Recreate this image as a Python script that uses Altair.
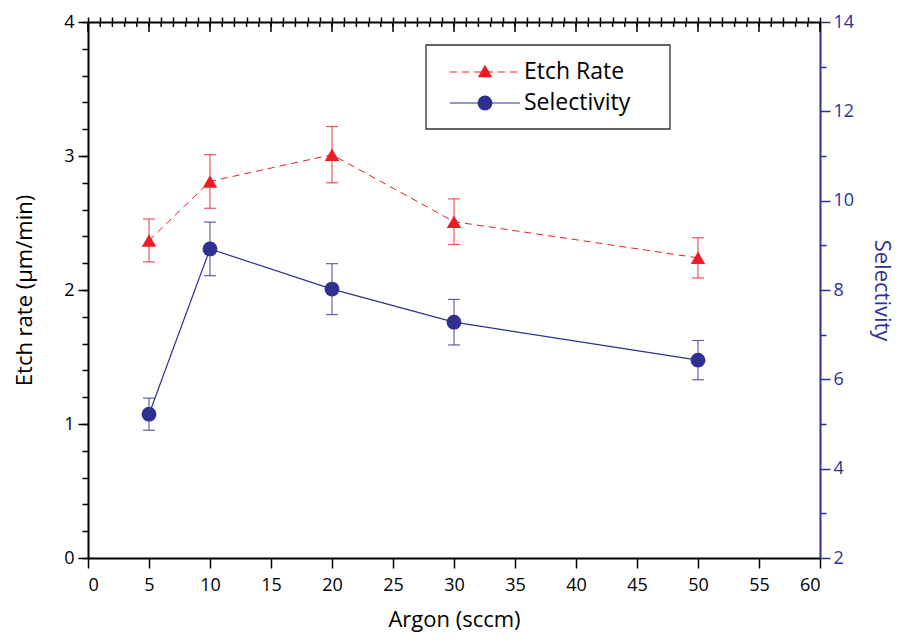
import altair as alt
import pandas as pd

# ---- data ----
argon = [5, 10, 20, 30, 50]
etch_rate = [2.37, 2.81, 3.01, 2.51, 2.24]
etch_err = [0.16, 0.20, 0.21, 0.17, 0.15]
selectivity = [5.22, 8.92, 8.02, 7.28, 6.43]
sel_err = [0.36, 0.60, 0.57, 0.51, 0.44]

x_major = list(range(0, 61, 5))
x_minor = list(range(0, 61, 1))
etch_major = [0, 1, 2, 3, 4]
etch_minor = [round(i * 0.2, 1) for i in range(0, 21)]
sel_major = [2, 4, 6, 8, 10, 12, 14]
sel_minor = [3, 5, 7, 9, 11, 13]

RED = "#ED1C24"
BLUE = "#2E3192"
FONT = "Open Sans"
W, H = 732, 536

df = pd.DataFrame({
    "argon": argon,
    "etch": etch_rate,
    "etch_lo": [v - e for v, e in zip(etch_rate, etch_err)],
    "etch_hi": [v + e for v, e in zip(etch_rate, etch_err)],
    "sel": selectivity,
    "sel_lo": [v - e for v, e in zip(selectivity, sel_err)],
    "sel_hi": [v + e for v, e in zip(selectivity, sel_err)],
})
top_major_df = pd.DataFrame({"v": x_major})
top_minor_df = pd.DataFrame({"v": x_minor})

xs = alt.Scale(domain=[0, 60], nice=False, zero=False)
ys_e = alt.Scale(domain=[0, 4], nice=False)
ys_s = alt.Scale(domain=[2, 14], nice=False, zero=False)

common = dict(grid=False, labelFont=FONT, titleFont=FONT, titleFontWeight="normal")

ax_bottom_major = alt.Axis(values=x_major, tickSize=10, tickWidth=1.5, domainWidth=2,
                           domainColor="black", tickColor="black", labelFontSize=18,
                           labelColor="black", labelPadding=8, title="Argon (sccm)",
                           titleFontSize=22, titlePadding=15, titleColor="black", **common)
ax_bottom_minor = alt.Axis(values=x_minor, tickSize=5, tickWidth=1.5, domain=False,
                           labels=False, title=None, tickColor="black", grid=False)
ax_top_domain = alt.Axis(orient="top", ticks=False, labels=False, title=None,
                         domainWidth=2, domainColor="black", grid=False)

ax_left_major = alt.Axis(orient="left", values=etch_major, tickSize=10, tickWidth=1.5,
                         domainWidth=2, domainColor="black", tickColor="black",
                         labelFontSize=18, labelColor="black", labelPadding=4,
                         title="Etch rate (µm/min)", titleFontSize=22, titlePadding=27,
                         titleColor="black", **common)
ax_left_minor = alt.Axis(orient="left", values=etch_minor, tickSize=6, tickWidth=1.5,
                         domain=False, labels=False, title=None, tickColor="black",
                         grid=False)

ax_right_major = alt.Axis(orient="right", values=sel_major, tickSize=10, tickWidth=1.5,
                          domainWidth=2, domainColor=BLUE, tickColor=BLUE,
                          labelFontSize=18, labelColor=BLUE, labelPadding=3,
                          title="Selectivity", titleFontSize=22, titlePadding=16,
                          titleColor=BLUE, titleAngle=90, **common)
ax_right_minor = alt.Axis(orient="right", values=sel_minor, tickSize=6, tickWidth=1.5,
                          domain=False, labels=False, title=None, tickColor=BLUE,
                          grid=False)

base = alt.Chart(df)

# inward ticks along the top edge, placed through the x scale
top_major = alt.Chart(top_major_df).mark_rule(color="black", strokeWidth=1.5).encode(
    x=alt.X("v:Q", scale=xs, axis=None), y=alt.value(0), y2=alt.value(10))
top_minor = alt.Chart(top_minor_df).mark_rule(color="black", strokeWidth=1.5).encode(
    x=alt.X("v:Q", scale=xs, axis=None), y=alt.value(0), y2=alt.value(5))

# ---- etch rate series ----
e_rule = base.mark_rule(color=RED, opacity=0.75, strokeWidth=1.2).encode(
    x=alt.X("argon:Q", scale=xs, axis=ax_bottom_major),
    y=alt.Y("etch_lo:Q", scale=ys_e, axis=ax_left_major),
    y2="etch_hi:Q",
)
e_cap_hi = base.mark_tick(color=RED, opacity=0.75, orient="horizontal", size=12,
                          thickness=1.2).encode(
    x=alt.X("argon:Q", scale=xs, axis=ax_bottom_minor),
    y=alt.Y("etch_hi:Q", scale=ys_e, axis=ax_left_minor),
)
e_cap_lo = base.mark_tick(color=RED, opacity=0.75, orient="horizontal", size=12,
                          thickness=1.2).encode(
    x=alt.X("argon:Q", scale=xs, axis=ax_top_domain),
    y=alt.Y("etch_lo:Q", scale=ys_e, axis=None),
)
e_line = base.mark_line(color=RED, strokeWidth=1, strokeDash=[7, 5]).encode(
    x=alt.X("argon:Q", scale=xs, axis=None),
    y=alt.Y("etch:Q", scale=ys_e, axis=None),
)
e_pts = base.mark_point(shape="triangle-up", filled=True, color=RED, opacity=1,
                        size=210).encode(
    x=alt.X("argon:Q", scale=xs, axis=None),
    y=alt.Y("etch:Q", scale=ys_e, axis=None),
)
etch_layer = alt.layer(top_major, top_minor, e_rule, e_cap_hi, e_cap_lo, e_line,
                       e_pts).resolve_axis(x="independent", y="independent")

# ---- selectivity series ----
s_rule = base.mark_rule(color=BLUE, opacity=0.75, strokeWidth=1.2).encode(
    x=alt.X("argon:Q", scale=xs, axis=None),
    y=alt.Y("sel_lo:Q", scale=ys_s, axis=ax_right_major),
    y2="sel_hi:Q",
)
s_cap_hi = base.mark_tick(color=BLUE, opacity=0.75, orient="horizontal", size=12,
                          thickness=1.2).encode(
    x=alt.X("argon:Q", scale=xs, axis=None),
    y=alt.Y("sel_hi:Q", scale=ys_s, axis=ax_right_minor),
)
s_cap_lo = base.mark_tick(color=BLUE, opacity=0.75, orient="horizontal", size=12,
                          thickness=1.2).encode(
    x=alt.X("argon:Q", scale=xs, axis=None),
    y=alt.Y("sel_lo:Q", scale=ys_s, axis=None),
)
s_line = base.mark_line(color=BLUE, strokeWidth=1.2).encode(
    x=alt.X("argon:Q", scale=xs, axis=None),
    y=alt.Y("sel:Q", scale=ys_s, axis=None),
)
s_pts = base.mark_point(shape="circle", filled=True, color=BLUE, opacity=1,
                        size=220).encode(
    x=alt.X("argon:Q", scale=xs, axis=None),
    y=alt.Y("sel:Q", scale=ys_s, axis=None),
)
sel_layer = alt.layer(s_rule, s_cap_hi, s_cap_lo, s_line, s_pts).resolve_axis(
    x="independent", y="independent")

# ---- manual legend ----
one = pd.DataFrame({"k": [0]})
lg = alt.Chart(one)
leg_box = lg.mark_rect(fill="white", stroke="#333333", strokeWidth=1.3).encode(
    x=alt.value(338), x2=alt.value(582), y=alt.value(23), y2=alt.value(107))
leg_l1 = lg.mark_rule(color=RED, strokeWidth=1, strokeDash=[7, 5]).encode(
    x=alt.value(362), x2=alt.value(432), y=alt.value(50))
leg_p1 = lg.mark_point(shape="triangle-up", filled=True, color=RED, opacity=1,
                       size=210).encode(x=alt.value(397), y=alt.value(49))
leg_l2 = lg.mark_rule(color=BLUE, strokeWidth=1.2).encode(
    x=alt.value(362), x2=alt.value(432), y=alt.value(81))
leg_p2 = lg.mark_point(shape="circle", filled=True, color=BLUE, opacity=1,
                       size=220).encode(x=alt.value(397), y=alt.value(81))
leg_t1 = lg.mark_text(text="Etch Rate", align="left", baseline="middle", font=FONT,
                      fontSize=23, color="black").encode(x=alt.value(436), y=alt.value(50))
leg_t2 = lg.mark_text(text="Selectivity", align="left", baseline="middle", font=FONT,
                      fontSize=23, color="black").encode(x=alt.value(436), y=alt.value(81))
legend_layer = alt.layer(leg_box, leg_l1, leg_p1, leg_l2, leg_p2, leg_t1, leg_t2)

chart = alt.layer(etch_layer, sel_layer, legend_layer).resolve_scale(
    y="independent").resolve_axis(x="independent", y="independent").properties(
    width=W, height=H,
    autosize=alt.AutoSizeParams(type="none"),
    padding={"left": 80, "top": 14, "right": 79, "bottom": 77},
    background="white",
).configure_view(stroke=None)

chart.save("out.html", embed_options={"renderer": "svg", "actions": False})
